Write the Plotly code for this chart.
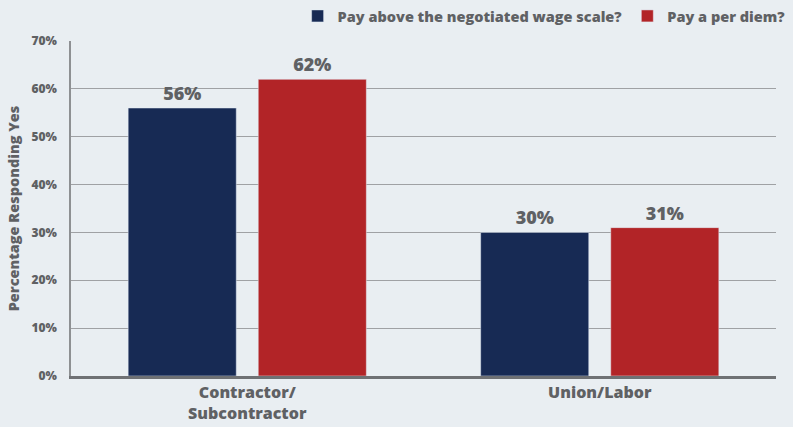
import plotly.graph_objects as go

categories = ["Contractor/<br>Subcontractor", "Union/Labor"]
above_scale = [56, 30]
per_diem = [62, 31]
series_names = ["Pay above the negotiated wage scale?", "Pay a per diem?"]

navy = "#172a54"
red = "#b22427"
gray_text = "#5f6164"
bg = "#e9eef2"
font_family = "'Open Sans', 'DejaVu Sans', sans-serif"
heavy = 800

fig = go.Figure()
for name, vals, col in [(series_names[0], above_scale, navy), (series_names[1], per_diem, red)]:
    fig.add_trace(go.Bar(
        x=categories, y=vals, name=name, marker_color=col,
        text=[f"{v}%" for v in vals], textposition="outside",
        textfont=dict(family=font_family, size=18, color=gray_text, weight=heavy),
        cliponaxis=False,
    ))

fig.update_layout(
    width=793, height=427,
    paper_bgcolor=bg, plot_bgcolor=bg,
    margin=dict(l=71, r=17, t=41, b=51, autoexpand=False),
    barmode="group", bargap=0.262, bargroupgap=0.169,
    font=dict(family=font_family, color=gray_text),
    legend=dict(orientation="h", x=0.997, xanchor="right", y=1.0, yanchor="top",
                yref="container", xref="container",
                font=dict(size=14.5, weight=heavy, color=gray_text),
                itemwidth=30, bgcolor="rgba(0,0,0,0)", traceorder="normal"),
    showlegend=True,
)

fig.update_yaxes(
    range=[0, 70], dtick=10, ticksuffix="%", automargin=False,
    showgrid=True, gridcolor="#9fa1a4", gridwidth=1.2,
    showline=True, linecolor="#8e9093", linewidth=1.5,
    tickfont=dict(size=12, weight=heavy, color=gray_text),
    ticks="", ticklabelstandoff=10,
    title=dict(text="Percentage Responding Yes", font=dict(size=14.5, weight=heavy, color=gray_text), standoff=8),
    zeroline=False,
)
fig.update_xaxes(
    showline=True, linecolor="#6f7174", linewidth=2.5, automargin=False,
    tickfont=dict(size=16, weight=heavy, color=gray_text),
    ticks="",
)

fig.write_html("out.html")
